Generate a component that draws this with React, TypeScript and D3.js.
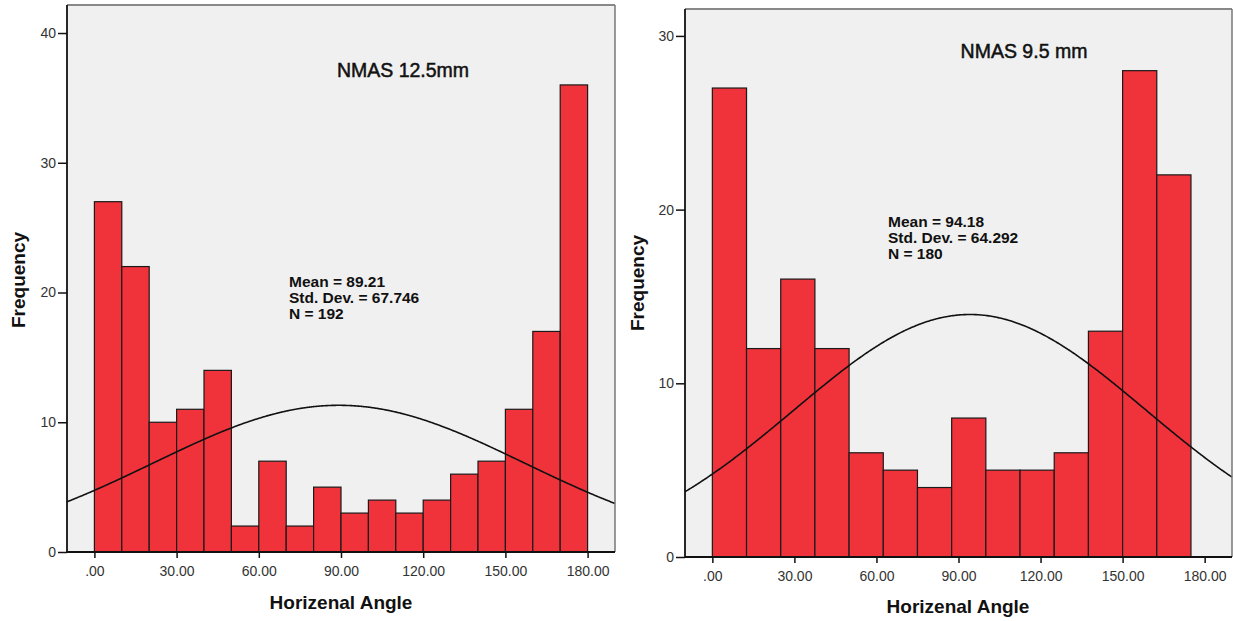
import { useEffect, useRef } from 'react'
import * as d3 from 'd3'

// shared x ticks (Horizenal Angle)
const xTicks = [0, 30, 60, 90, 120, 150, 180]

// left panel: NMAS 12.5mm
const leftTitle = 'NMAS 12.5mm'
const leftCounts = [27, 22, 10, 11, 14, 2, 7, 2, 5, 3, 4, 3, 4, 6, 7, 11, 17, 36]
const leftBinWidth = 10
const leftMean = 89.21
const leftSd = 67.746
const leftN = 192
const leftYTicks = [0, 10, 20, 30, 40]

// right panel: NMAS 9.5 mm
const rightTitle = 'NMAS 9.5 mm'
const rightCounts = [27, 12, 16, 12, 6, 5, 4, 8, 5, 5, 6, 13, 28, 22]
const rightBinWidth = 12.5
const rightMean = 94.18
const rightSd = 64.292
const rightN = 180
const rightYTicks = [0, 10, 20, 30]

const FONT = '"Liberation Sans", Arial, Helvetica, sans-serif'

// black left/bottom axis lines
const axisLines = (g, box) => {
  g.append('line')
   .attr('x1', box.left).attr('x2', box.left)
   .attr('y1', box.top).attr('y2', box.bottom)
   .attr('stroke', '#111').attr('stroke-width', 1.8)
  g.append('line')
   .attr('x1', box.left).attr('x2', box.right)
   .attr('y1', box.bottom).attr('y2', box.bottom)
   .attr('stroke', '#111').attr('stroke-width', 1.8)
}

const drawPanel = (g, cfg) => {
  const { box, yMax, yTicks, counts, binWidth, mean, sd, n, title, titleAt, statsAt, xLabelAt, yLabelAt } = cfg

  const x = d3.scaleLinear().domain([-10, 190]).range([box.left, box.right])
  const y = d3.scaleLinear().domain([0, yMax]).range([box.bottom, box.top])

  g.append('rect')
   .attr('x', box.left)
   .attr('y', box.top)
   .attr('width', box.right - box.left)
   .attr('height', box.bottom - box.top)
   .attr('fill', '#f0f0f0')

  g.append('g')
   .selectAll('rect')
   .data(counts)
   .join('rect')
   .attr('x', (d, i) => x(i * binWidth))
   .attr('y', d => y(d))
   .attr('width', (d, i) => x((i + 1) * binWidth) - x(i * binWidth))
   .attr('height', d => y(0) - y(d))
   .attr('fill', '#f0323a')
   .attr('stroke', '#1a1a1a')
   .attr('stroke-width', 1.2)

  // fitted normal curve, scaled to counts
  const scale = n * binWidth / (sd * Math.sqrt(2 * Math.PI))
  const pts = d3.range(-10, 190.01, 0.5)
  const line = d3.line()
                 .x(d => x(d))
                 .y(d => y(scale * Math.exp(-0.5 * ((d - mean) / sd) ** 2)))
                 .curve(d3.curveMonotoneX)

  g.append('path')
   .datum(pts)
   .attr('d', line)
   .attr('fill', 'none')
   .attr('stroke', '#111')
   .attr('stroke-width', 1.6)

  // frame
  g.append('line')
   .attr('x1', box.left).attr('x2', box.right)
   .attr('y1', box.top).attr('y2', box.top)
   .attr('stroke', '#888').attr('stroke-width', 2)
  g.append('line')
   .attr('x1', box.right).attr('x2', box.right)
   .attr('y1', box.top).attr('y2', box.bottom)
   .attr('stroke', '#777').attr('stroke-width', 1.5)

  const yAxis = g.append('g')
                 .attr('transform', `translate(${box.left},0)`)
                 .call(d3.axisLeft(y).tickValues(yTicks).tickSize(9).tickPadding(2).tickFormat(d3.format('d')))
  const xAxis = g.append('g')
                 .attr('transform', `translate(0,${box.bottom})`)
                 .call(d3.axisBottom(x).tickValues(xTicks).tickSize(6).tickPadding(8)
                        .tickFormat(v => v === 0 ? '.00' : v.toFixed(2)))

  for (const ax of [yAxis, xAxis]) {
    ax.select('.domain').remove()
    ax.selectAll('line').attr('stroke', '#111').attr('stroke-width', 1.5)
    ax.selectAll('text')
      .attr('font-family', FONT)
      .attr('font-size', 14)
      .attr('fill', '#333')
  }
  axisLines(g, box)

  g.append('text')
   .attr('x', titleAt[0]).attr('y', titleAt[1])
   .attr('text-anchor', 'middle')
   .attr('font-family', FONT)
   .attr('font-size', 19.5)
   .attr('fill', '#111')
   .attr('stroke', '#111')
   .attr('stroke-width', 0.5)
   .text(title)

  const stats = [`Mean = ${mean}`, `Std. Dev. = ${sd}`, `N = ${n}`]
  g.append('g')
   .selectAll('text')
   .data(stats)
   .join('text')
   .attr('x', statsAt[0])
   .attr('y', (d, i) => statsAt[1] + i * 16)
   .attr('font-family', FONT)
   .attr('font-size', 15.5)
   .attr('font-weight', 'bold')
   .attr('fill', '#111')
   .text(d => d)

  g.append('text')
   .attr('x', xLabelAt[0]).attr('y', xLabelAt[1])
   .attr('text-anchor', 'middle')
   .attr('font-family', FONT)
   .attr('font-size', 19)
   .attr('font-weight', 'bold')
   .attr('fill', '#111')
   .text('Horizenal Angle')

  g.append('text')
   .attr('transform', `translate(${yLabelAt[0]},${yLabelAt[1]}) rotate(-90)`)
   .attr('text-anchor', 'middle')
   .attr('font-family', FONT)
   .attr('font-size', 19)
   .attr('font-weight', 'bold')
   .attr('fill', '#111')
   .text('Frequency')
}

const App = () => {
  const ref = useRef(null)

  useEffect(() => {
    const svg = d3.select(ref.current)
    svg.selectAll('*').remove()

    drawPanel(svg.append('g'), {
      box: { left: 67, right: 615, top: 5, bottom: 552 },
      yMax: 42.16,
      yTicks: leftYTicks,
      counts: leftCounts,
      binWidth: leftBinWidth,
      mean: leftMean,
      sd: leftSd,
      n: leftN,
      title: leftTitle,
      titleAt: [403, 77],
      statsAt: [289, 287],
      xLabelAt: [341, 609],
      yLabelAt: [25, 280],
    })

    drawPanel(svg.append('g'), {
      box: { left: 685, right: 1232, top: 9, bottom: 557 },
      yMax: 31.55,
      yTicks: rightYTicks,
      counts: rightCounts,
      binWidth: rightBinWidth,
      mean: rightMean,
      sd: rightSd,
      n: rightN,
      title: rightTitle,
      titleAt: [1024, 58],
      statsAt: [888, 227],
      xLabelAt: [958, 613],
      yLabelAt: [644, 283],
    })
  }, [])

  return (
    <svg ref={ref} width={1233} height={621}
         style={{ position: 'absolute', left: 0, top: 0, background: '#fff' }} />
  )
}

export default App
